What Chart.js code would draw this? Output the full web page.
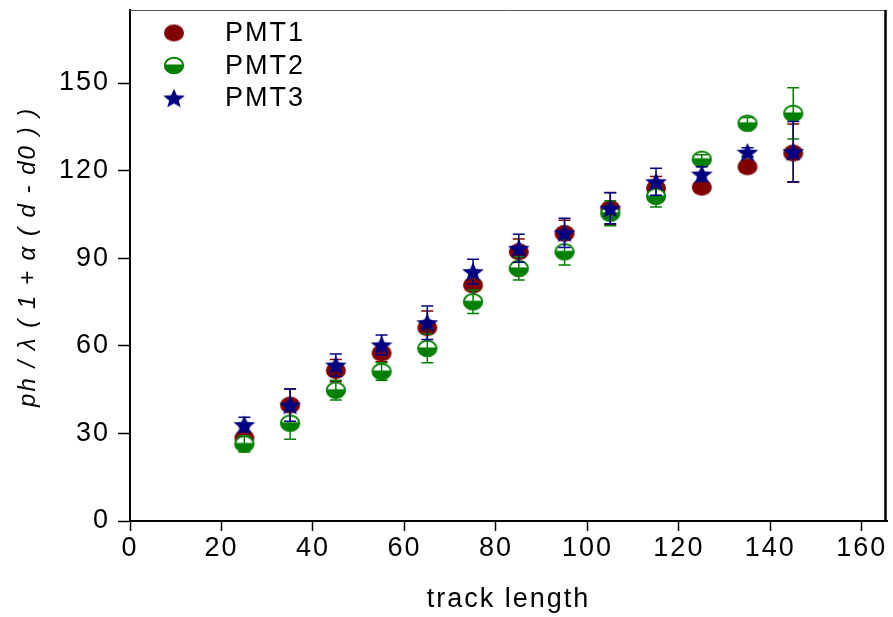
<!DOCTYPE html>
<html>
<head>
<meta charset="utf-8">
<title>PMT track length</title>
<script src="https://cdn.jsdelivr.net/npm/chart.js@4.4.0/dist/chart.umd.min.js"></script>
<style>
	html, body { margin: 0; padding: 0; background: #ffffff; }
	canvas { display: block; }
</style>
</head>
<body>
<canvas id="myChart" width="893" height="617"></canvas>
<script>
	var trackLength = [25, 35, 45, 55, 65, 75, 85, 95, 105, 115, 125, 135, 145];

	var pmt1 = [28.5, 39.7, 51.5, 57.5, 66.2, 80.8, 92.2, 98.5, 107.0, 114.0, 114.3, 121.3, 126.0];
	var pmt1Err = [3.8, 5.5, 3.8, 3.0, 5.7, 4.8, 4.4, 4.5, 5.5, 4.0, 1.5, 1.5, 10.0];

	var pmt2 = [26.4, 33.5, 44.8, 51.2, 59.1, 75.1, 86.5, 92.2, 105.4, 111.2, 123.9, 136.2, 139.6];
	var pmt2Err = [2.8, 5.5, 3.4, 3.0, 4.9, 4.0, 4.0, 4.5, 4.3, 3.7, 1.5, 2.0, 8.8];

	var pmt3 = [33.0, 39.7, 53.4, 60.3, 67.9, 85.4, 93.4, 98.7, 107.1, 116.2, 118.8, 126.3, 126.5];
	var pmt3Err = [2.5, 5.5, 3.8, 3.4, 5.7, 4.2, 4.8, 5.0, 5.3, 4.6, 2.5, 1.5, 10.3];

	var xTicks = [0, 20, 40, 60, 80, 100, 120, 140, 160];
	var yTicks = [0, 30, 60, 90, 120, 150];

	var FONT = '"Liberation Sans", Arial, sans-serif';
	Chart.defaults.font.family = FONT;
	Chart.defaults.color = '#000000';

	// marker images used as pointStyle
	function marker(kind) {
		var c = document.createElement('canvas');
		c.width = 24;
		c.height = 21;
		var g = c.getContext('2d');
		var cx = 12, cy = 10.5;
		if (kind === 'circle') {
			g.fillStyle = '#800000';
			g.beginPath();
			g.ellipse(cx, cy, 10, 8.4, 0, 0, Math.PI * 2);
			g.fill();
		} else if (kind === 'half') {
			g.fillStyle = '#ffffff';
			g.beginPath();
			g.ellipse(cx, cy, 9.2, 7.8, 0, 0, Math.PI * 2);
			g.fill();
			g.save();
			g.beginPath();
			g.rect(0, cy - 1, c.width, c.height);
			g.clip();
			g.fillStyle = '#008000';
			g.beginPath();
			g.ellipse(cx, cy, 9.2, 7.8, 0, 0, Math.PI * 2);
			g.fill();
			g.restore();
			g.strokeStyle = '#008000';
			g.lineWidth = 1.9;
			g.beginPath();
			g.ellipse(cx, cy, 9.2, 7.8, 0, 0, Math.PI * 2);
			g.stroke();
		} else {
			g.fillStyle = '#000080';
			g.beginPath();
			for (var i = 0; i < 10; i++) {
				var r = i % 2 === 0 ? 11.5 : 5;
				var a = -Math.PI / 2 + i * Math.PI / 5;
				var px = cx + r * Math.cos(a);
				var py = cy + 1 + r * Math.sin(a) * 0.9;
				if (i === 0) g.moveTo(px, py); else g.lineTo(px, py);
			}
			g.closePath();
			g.fill();
		}
		return c;
	}

	function points(ys) {
		return trackLength.map(function (x, i) { return {x: x, y: ys[i]}; });
	}

	// vertical error bars, drawn right after each series
	var errorBars = {
		id: 'errorBars',
		afterDatasetDraw: function (chart, args) {
			var ds = chart.data.datasets[args.index];
			var xs = chart.scales.x;
			var ys = chart.scales.y;
			var ctx = chart.ctx;
			ctx.save();
			ctx.strokeStyle = ds.borderColor;
			ctx.lineWidth = 1.5;
			ds.data.forEach(function (p, i) {
				var e = ds.errors[i];
				var x = xs.getPixelForValue(p.x);
				var top = ys.getPixelForValue(p.y + e);
				var bot = ys.getPixelForValue(p.y - e);
				ctx.beginPath();
				ctx.moveTo(x, top); ctx.lineTo(x, bot);
				ctx.moveTo(x - 6, top); ctx.lineTo(x + 6, top);
				ctx.moveTo(x - 6, bot); ctx.lineTo(x + 6, bot);
				ctx.stroke();
			});
			ctx.restore();
		}
	};

	// box lines on top and right, legend inside the plot
	var frameAndLegend = {
		id: 'frameAndLegend',
		beforeDraw: function (chart) {
			chart.ctx.letterSpacing = '2px';
		},
		afterDraw: function (chart) {
			var ctx = chart.ctx;
			var a = chart.chartArea;
			ctx.save();
			ctx.strokeStyle = '#555555';
			ctx.lineWidth = 1;
			ctx.beginPath();
			ctx.moveTo(a.left, a.top + 0.5);
			ctx.lineTo(a.right, a.top + 0.5);
			ctx.stroke();
			ctx.strokeStyle = '#000000';
			ctx.lineWidth = 2.5;
			ctx.beginPath();
			ctx.moveTo(a.right - 1.5, a.top);
			ctx.lineTo(a.right - 1.5, a.bottom);
			ctx.stroke();

			ctx.font = '27px ' + FONT;
			ctx.letterSpacing = '2px';
			ctx.fillStyle = '#000000';
			ctx.textBaseline = 'middle';
			ctx.textAlign = 'left';
			chart.data.datasets.forEach(function (ds, i) {
				var y = 33 + i * 32.5;
				var img = ds.pointStyle;
				ctx.drawImage(img, 174 - img.width / 2, y - img.height / 2);
				ctx.fillText(ds.label, 225, y + 1);
			});
			ctx.restore();
		}
	};

	var series = [
		{label: 'PMT1', data: points(pmt1), errors: pmt1Err, color: '#800000', style: marker('circle'), order: 2},
		{label: 'PMT2', data: points(pmt2), errors: pmt2Err, color: '#008000', style: marker('half'), order: 1},
		{label: 'PMT3', data: points(pmt3), errors: pmt3Err, color: '#000080', style: marker('star'), order: 0}
	];

	new Chart(document.getElementById('myChart'), {
		type: 'scatter',
		data: {
			datasets: series.map(function (s) {
				return {
					label: s.label,
					data: s.data,
					errors: s.errors,
					borderColor: s.color,
					backgroundColor: s.color,
					pointStyle: s.style,
					pointRadius: 11,
					pointHoverRadius: 11,
					order: s.order
				};
			})
		},
		options: {
			responsive: false,
			animation: false,
			devicePixelRatio: 1,
			layout: {autoPadding: false, padding: {top: 10, right: 6, left: 0, bottom: 0}},
			plugins: {
				legend: {display: false},
				tooltip: {enabled: false}
			},
			scales: {
				x: {
					type: 'linear',
					min: 0,
					max: 165.5,
					afterBuildTicks: function (s) { s.ticks = xTicks.map(function (v) { return {value: v}; }); },
					afterFit: function (s) {
						s.height = 96;
						s.paddingLeft = 0;
						s.paddingRight = 0;
					},
					ticks: {font: {size: 27}, color: '#000', padding: 1, maxRotation: 0, autoSkip: false},
					grid: {drawOnChartArea: false, tickLength: 10, tickColor: '#000', tickWidth: 1.5},
					border: {color: '#000', width: 2},
					title: {display: true, text: 'track length', font: {size: 27}, color: '#000', padding: {top: 0, bottom: 1}}
				},
				y: {
					type: 'linear',
					min: 0,
					max: 175,
					afterBuildTicks: function (s) { s.ticks = yTicks.map(function (v) { return {value: v}; }); },
					afterFit: function (s) {
						s.width = 130;
						s.paddingTop = 0;
						s.paddingBottom = 0;
					},
					ticks: {font: {size: 27}, color: '#000', padding: 8, autoSkip: false},
					grid: {drawOnChartArea: false, tickLength: 12, tickColor: '#000', tickWidth: 1.5},
					border: {color: '#000', width: 2},
					title: {display: true, text: '\u00a0\u00a0ph / λ ( 1 + α ( d - d0 ) )', font: {size: 24, style: 'italic'}, color: '#000', padding: {top: 14, bottom: 0}}
				}
			}
		},
		plugins: [errorBars, frameAndLegend]
	});
</script>
</body>
</html>
